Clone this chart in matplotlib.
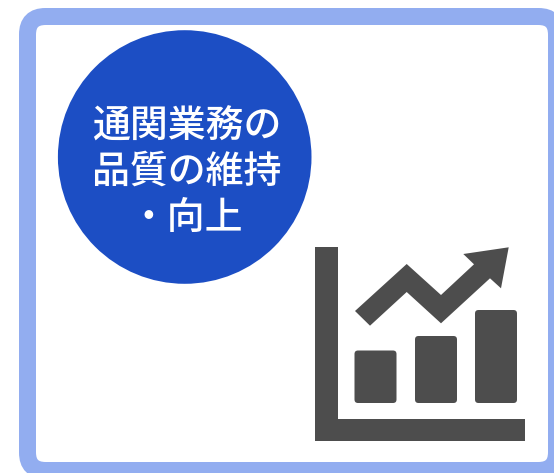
import matplotlib
matplotlib.use("Agg")
import matplotlib.pyplot as plt
from matplotlib.patches import FancyBboxPatch, Circle, Polygon

plt.rcParams['font.family'] = ['Noto Sans CJK JP', 'DejaVu Sans']

# Content
title_lines = ["通関業務の", "品質の維持", "・向上"]
bar_lefts = [354.5, 415, 475]
bar_heights = [52.5, 67, 93]
trend_x = [355, 406.7, 441, 474, 463.3, 508.7, 501, 490, 441, 406.7, 370]
trend_y = [311, 264, 295, 264.3, 254, 247.3, 288.3, 278.3, 323.3, 292, 325.7]

W, H = 554, 473
GREY = "#4d4d4d"
fig = plt.figure(figsize=(W / 100, H / 100), dpi=100, facecolor="white")
ax = fig.add_axes([0, 0, 1, 1])
ax.set_xlim(0, W)
ax.set_ylim(H, 0)
ax.axis("off")

# Frame
ax.add_patch(FancyBboxPatch((27.5, 16.5), 529, 454,
                            boxstyle="round,pad=0,rounding_size=18",
                            fc="white", ec="#92adf0", lw=17 * 0.72, zorder=1))

# Badge
ax.add_patch(Circle((184.7, 157), 126.8, fc="#1c4ec4", ec="none", zorder=2))
for text, y in zip(title_lines, [127, 172, 218]):
    ax.text(186.5, y, text, color="white", fontsize=27.3, ha="center",
            va="center", fontweight="medium", zorder=3)

# Icon axes
ax.fill([315, 338, 338, 525, 525, 315], [247, 247, 419, 419, 441, 441],
        color=GREY, lw=0, zorder=2)

# Icon bars
BASE = 403
for left, h in zip(bar_lefts, bar_heights):
    ax.add_patch(FancyBboxPatch((left, BASE - h), 42, h,
                                boxstyle="round,pad=0,rounding_size=3.5",
                                fc=GREY, ec="none", zorder=2))

# Icon trend arrow
ax.add_patch(Polygon(list(zip(trend_x, trend_y)), closed=True, fc=GREY,
                     ec="none", zorder=2))

fig.savefig("out.png", dpi=100, facecolor="white")
